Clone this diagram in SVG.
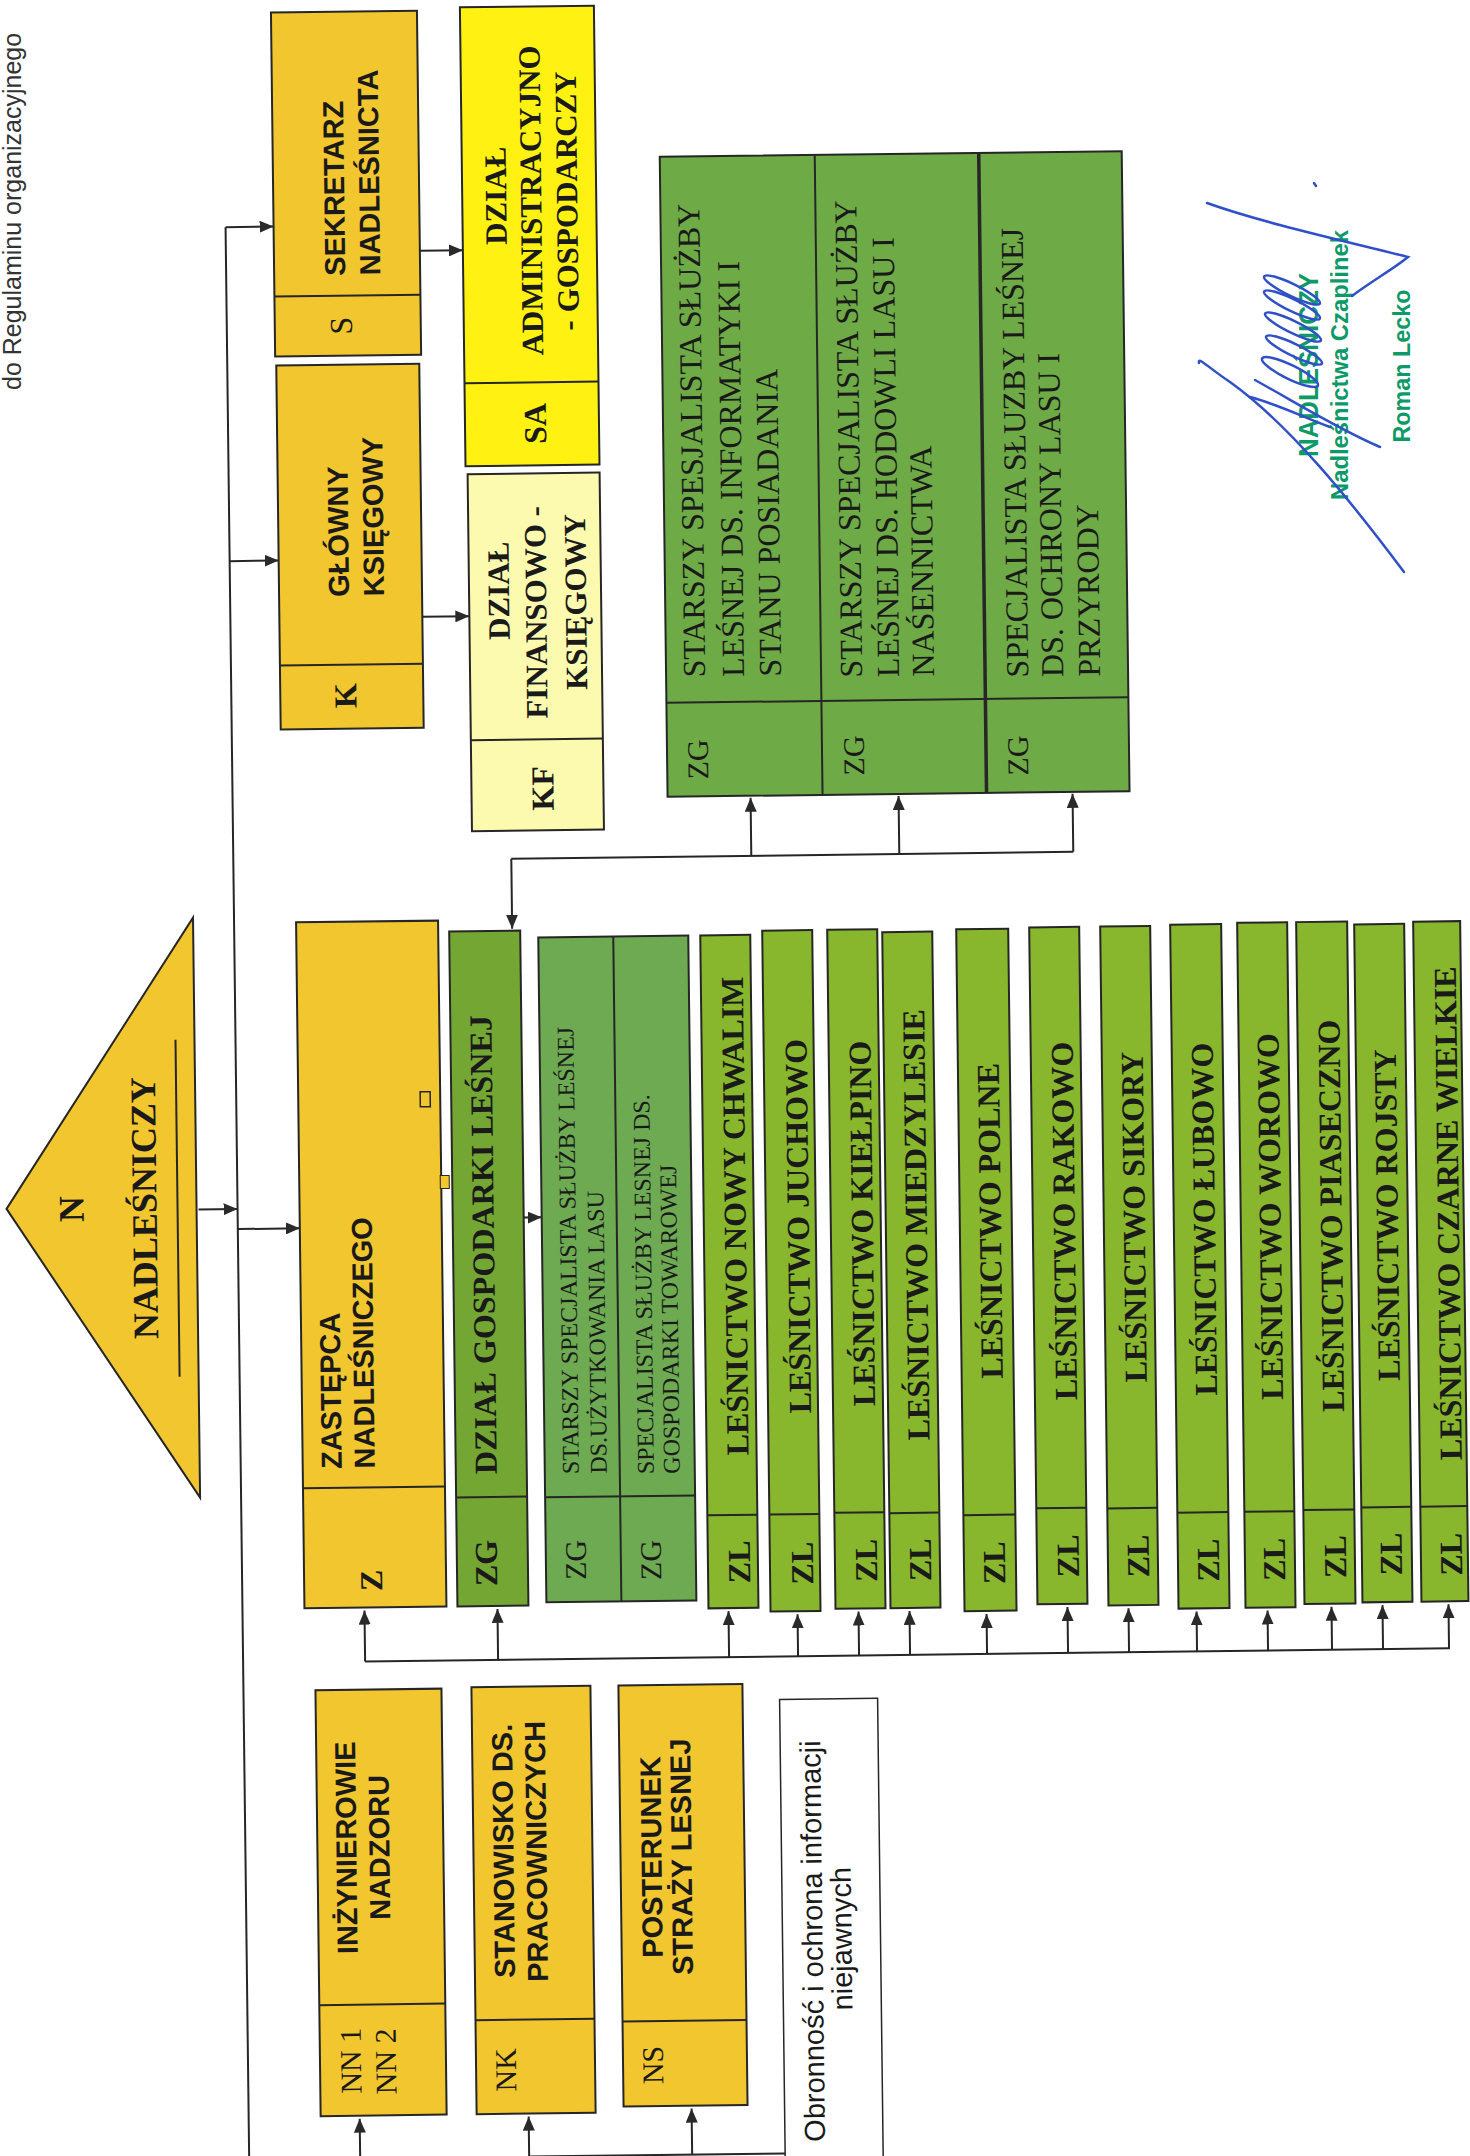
<svg xmlns="http://www.w3.org/2000/svg" width="1470" height="2156" viewBox="0 0 1470 2156">
<defs>
<marker id="ah" markerWidth="14" markerHeight="12" refX="14" refY="6" orient="auto" markerUnits="userSpaceOnUse"><path d="M0,0 L14,6 L0,12 z" fill="#2a2a2a"/></marker>
<style>
.bx{stroke:#262626;stroke-width:2}
.ora{fill:#F2C62F}.yel{fill:#FFF212}.pale{fill:#FCFAAE}.g1{fill:#6EAA46}.g2{fill:#74A633}.g3{fill:#6DAA52}.g4{fill:#88B62C}.wh{fill:#ffffff}
.ln{stroke:#262626;stroke-width:2;fill:none}
.ar{stroke:#262626;stroke-width:2;fill:none;marker-end:url(#ah)}
.sb{font-family:"Liberation Sans",Arial,sans-serif;font-weight:bold;font-size:29px;fill:#1a1a1a}
.sr{font-family:"Liberation Sans",Arial,sans-serif;font-size:29px;fill:#1a1a1a}
.tb{font-family:"Liberation Serif","Times New Roman",serif;font-weight:bold;font-size:32px;fill:#1a1a1a}
.tr{font-family:"Liberation Serif","Times New Roman",serif;font-size:32px;fill:#1a1a1a}
.m{text-anchor:middle}
.stamp{font-family:"Liberation Sans",Arial,sans-serif;font-weight:bold;fill:#0E9A68;text-anchor:middle}
.sig{stroke:#3050C8;stroke-width:2.5;fill:none;stroke-linecap:round}
</style>
</defs>

<text class="sr" style="font-size:25px;fill:#333" transform="translate(21,390) rotate(-90)">do Regulaminu organizacyjnego</text>

<g transform="rotate(-0.7 735 1078)">
<g id="connectors">
<path class="ln" d="M236,221 V2175"/>
<path class="ar" d="M236,221 H284"/>
<path class="ar" d="M236,555 H285"/>
<path class="ar" d="M430,247 H473"/>
<path class="ar" d="M428,613 H475"/>
<path class="ar" d="M197,1203 H236"/>
<path class="ar" d="M236,1223 H298"/>
<path class="ar" d="M514,856 V926"/>
<path class="ln" d="M514,856 H1076"/>
<path class="ar" d="M754,856 V798"/>
<path class="ar" d="M902,856 V798"/>
<path class="ar" d="M1076,856 V798"/>
<path class="ar" d="M522,1215 H540"/>
<path class="ln" d="M358,1657 H1443"/>
<path class="ar" d="M358,1657 V1606"/>
<path class="ar" d="M491,1657 V1606"/>
<path class="ar" d="M722,1657 V1611"/>
<path class="ar" d="M791,1657 V1615"/>
<path class="ar" d="M852,1657 V1613"/>
<path class="ar" d="M903,1657 V1613"/>
<path class="ar" d="M980,1657 V1617"/>
<path class="ar" d="M1061,1657 V1611"/>
<path class="ar" d="M1122,1657 V1613"/>
<path class="ar" d="M1190,1657 V1617"/>
<path class="ar" d="M1261,1657 V1617"/>
<path class="ar" d="M1325,1657 V1614"/>
<path class="ar" d="M1376,1657 V1613"/>
<path class="ar" d="M1442,1657 V1613"/>
<path class="ar" d="M347,2175 V2114"/>
<path class="ar" d="M516,2175 V2114"/>
<path class="ar" d="M679,2154 V2108"/>
<path class="ln" d="M516,2154 H772"/>
</g>

<g id="nadlesniczy">
<polygon class="bx ora" points="5,1200 195,911 195,1491"/>
<text class="tb m" style="font-size:36px" transform="translate(82,1201) rotate(-90)">N</text>
<text class="tb m" style="font-size:36px" transform="translate(155,1201) rotate(-90)">NADLEŚNICZY</text>
<path class="ln" d="M176,1033 V1370"/>
</g>

<g id="sekretarz">
<rect class="bx ora" x="284" y="7" width="146" height="344"/>
<path class="ln" d="M284,291 H430"/>
<text class="sb" transform="translate(355,271) rotate(-90)">SEKRETARZ</text>
<text class="sb" transform="translate(390,271) rotate(-90)">NADLEŚNICTA</text>
<text class="tr m" transform="translate(361,321) rotate(-90)">S</text>
</g>

<g id="glowny">
<rect class="bx ora" x="285" y="360" width="143" height="364"/>
<path class="ln" d="M285,660 H428"/>
<text class="sb" transform="translate(355,592) rotate(-90)">GŁÓWNY</text>
<text class="sb" transform="translate(390,592) rotate(-90)">KSIĘGOWY</text>
<text class="tb m" transform="translate(361,691) rotate(-90)">K</text>
</g>

<g id="dzial-admin">
<rect class="bx yel" x="473" y="4" width="134" height="459"/>
<path class="ln" d="M473,380 H607"/>
<text class="tb m" style="font-size:31px" transform="translate(517,193) rotate(-90)">DZIAŁ</text>
<text class="tb m" style="font-size:31px" transform="translate(552,198) rotate(-90)">ADMINISTRACYJNO</text>
<text class="tb m" style="font-size:31px" transform="translate(588,199) rotate(-90)">- GOSPODARCZY</text>
<text class="tb m" transform="translate(554,421) rotate(-90)">SA</text>
</g>

<g id="dzial-fin">
<rect class="bx pale" x="475" y="471" width="132" height="357"/>
<path class="ln" d="M475,737 H607"/>
<text class="tb m" style="font-size:31px" transform="translate(515,588) rotate(-90)">DZIAŁ</text>
<text class="tb m" style="font-size:31px" transform="translate(552,610) rotate(-90)">FINANSOWO -</text>
<text class="tb m" style="font-size:31px" transform="translate(592,600) rotate(-90)">KSIĘGOWY</text>
<text class="tb m" transform="translate(557,786) rotate(-90)">KF</text>
</g>

<g id="zg-specjalisci">
<rect class="bx g1" x="671" y="156" width="462" height="640"/>
<path class="ln" d="M826,156 V796"/>
<path class="ln" style="stroke-width:3.5" d="M990,156 V796"/>
<path class="ln" d="M671,702 H1133"/>
<text class="tr" transform="translate(710,677) rotate(-90)">STARSZY SPESJALISTA SŁUŻBY</text>
<text class="tr" transform="translate(749,677) rotate(-90)">LEŚNEJ DS. INFORMATYKI I</text>
<text class="tr" transform="translate(786,677) rotate(-90)">STANU POSIADANIA</text>
<text class="tr" transform="translate(867,679) rotate(-90)">STARSZY SPECJALISTA SŁUŻBY</text>
<text class="tr" transform="translate(904,679) rotate(-90)">LEŚNEJ DS. HODOWLI LASU I</text>
<text class="tr" transform="translate(939,679) rotate(-90)">NAŚENNICTWA</text>
<text class="tr" transform="translate(1033,681) rotate(-90)">SPECJALISTA SŁUZBY LEŚNEJ</text>
<text class="tr" transform="translate(1068,681) rotate(-90)">DS. OCHRONY LASU I</text>
<text class="tr" transform="translate(1105,681) rotate(-90)">PRZYRODY</text>
<text class="tr m" style="font-size:30px" transform="translate(712,759) rotate(-90)">ZG</text>
<text class="tr m" style="font-size:30px" transform="translate(868,757) rotate(-90)">ZG</text>
<text class="tr m" style="font-size:30px" transform="translate(1032,759) rotate(-90)">ZG</text>
</g>

<g id="zastepca">
<rect class="bx ora" x="298" y="917" width="142" height="686"/>
<path class="ln" d="M298,1483 H440"/>
<text class="sb" transform="translate(337,1464) rotate(-90)">ZASTĘPCA</text>
<text class="sb" transform="translate(370,1464) rotate(-90)">NADLEŚNICZEGO</text>
<text class="tb m" transform="translate(376,1576) rotate(-90)">Z</text>
<rect x="420" y="1088" width="10" height="15" fill="none" stroke="#262626" stroke-width="1.5"/>
<rect x="439" y="1172" width="9" height="13" class="ora" stroke="#262626" stroke-width="1"/>
</g>

<g id="dzial-gospodarki">
<rect class="bx g2" x="451" y="928" width="71" height="675"/>
<path class="ln" d="M451,1494 H522"/>
<text class="tb" textLength="459" lengthAdjust="spacing" transform="translate(492,1471) rotate(-90)">DZIAŁ GOSPODARKI LEŚNEJ</text>
<text class="tb m" transform="translate(491,1560) rotate(-90)">ZG</text>
</g>

<g id="specjalisci-uzytkowania">
<rect class="bx g3" x="540" y="935" width="150" height="665"/>
<path class="ln" d="M615,935 V1600"/>
<path class="ln" d="M540,1495 H690"/>
<text class="tr" style="font-size:24px" transform="translate(574,1472) rotate(-90)">STARSZY SPECJALISTA SŁUŻBY LEŚNEJ</text>
<text class="tr" style="font-size:24px" transform="translate(602,1472) rotate(-90)">DS.UŻYTKOWANIA LASU</text>
<text class="tr" style="font-size:24px" transform="translate(649,1473) rotate(-90)">SPECJALISTA SŁUŻBY LESNEJ DS.</text>
<text class="tr" style="font-size:24px" transform="translate(675,1473) rotate(-90)">GOSPODARKI TOWAROWEJ</text>
<text class="tr m" style="font-size:30px" transform="translate(580,1558) rotate(-90)">ZG</text>
<text class="tr m" style="font-size:30px" transform="translate(655,1559) rotate(-90)">ZG</text>
</g>

<g id="l-nowy-chwalim">
<rect class="bx g4" x="702" y="935" width="50" height="673"/><path class="ln" d="M702,1515 H752"/>
<text class="tb m" transform="translate(744,1216) rotate(-90)">LEŚNICTWO NOWY CHWALIM</text>
<text class="tb m" transform="translate(744,1562) rotate(-90)">ZL</text>
</g>
<g id="l-juchowo">
<rect class="bx g4" x="764" y="931" width="50" height="681"/><path class="ln" d="M764,1515 H814"/>
<text class="tb m" transform="translate(807,1227) rotate(-90)">LEŚNICTWO JUCHOWO</text>
<text class="tb m" transform="translate(807,1564) rotate(-90)">ZL</text>
</g>
<g id="l-kielpino">
<rect class="bx g4" x="829" y="931" width="50" height="679"/><path class="ln" d="M829,1514 H879"/>
<text class="tb m" transform="translate(871,1225) rotate(-90)">LEŚNICTWO KIEŁPINO</text>
<text class="tb m" transform="translate(871,1562) rotate(-90)">ZL</text>
</g>
<g id="l-miedzylesie">
<rect class="bx g4" x="884" y="934" width="50" height="676"/><path class="ln" d="M884,1515 H934"/>
<text class="tb m" transform="translate(925,1227) rotate(-90)">LEŚNICTWO MIEDZYLESIE</text>
<text class="tb m" transform="translate(925,1562) rotate(-90)">ZL</text>
</g>
<g id="l-polne">
<rect class="bx g4" x="958" y="932" width="52" height="682"/><path class="ln" d="M958,1518 H1010"/>
<text class="tb m" transform="translate(999,1224) rotate(-90)">LEŚNICTWO POLNE</text>
<text class="tb m" transform="translate(999,1566) rotate(-90)">ZL</text>
</g>
<g id="l-rakowo">
<rect class="bx g4" x="1031" y="931" width="50" height="677"/><path class="ln" d="M1031,1512 H1081"/>
<text class="tb m" transform="translate(1073,1225) rotate(-90)">LEŚNICTWO RAKOWO</text>
<text class="tb m" transform="translate(1073,1560) rotate(-90)">ZL</text>
</g>
<g id="l-sikory">
<rect class="bx g4" x="1102" y="931" width="50" height="679"/><path class="ln" d="M1102,1513 H1152"/>
<text class="tb m" transform="translate(1143,1222) rotate(-90)">LEŚNICTWO SIKORY</text>
<text class="tb m" transform="translate(1143,1561) rotate(-90)">ZL</text>
</g>
<g id="l-lubowo">
<rect class="bx g4" x="1172" y="930" width="51" height="684"/><path class="ln" d="M1172,1518 H1223"/>
<text class="tb m" transform="translate(1213,1225) rotate(-90)">LEŚNICTWO ŁUBOWO</text>
<text class="tb m" transform="translate(1213,1566) rotate(-90)">ZL</text>
</g>
<g id="l-worowo">
<rect class="bx g4" x="1239" y="929" width="50" height="685"/><path class="ln" d="M1239,1518 H1289"/>
<text class="tb m" transform="translate(1279,1223) rotate(-90)">LEŚNICTWO WOROWO</text>
<text class="tb m" transform="translate(1279,1566) rotate(-90)">ZL</text>
</g>
<g id="l-piaseczno">
<rect class="bx g4" x="1298" y="929" width="51" height="682"/><path class="ln" d="M1298,1517 H1349"/>
<text class="tb m" transform="translate(1340,1223) rotate(-90)">LEŚNICTWO PIASECZNO</text>
<text class="tb m" transform="translate(1340,1564) rotate(-90)">ZL</text>
</g>
<g id="l-rojsty">
<rect class="bx g4" x="1356" y="932" width="50" height="678"/><path class="ln" d="M1356,1515 H1406"/>
<text class="tb m" transform="translate(1396,1223) rotate(-90)">LEŚNICTWO ROJSTY</text>
<text class="tb m" transform="translate(1396,1562) rotate(-90)">ZL</text>
</g>
<g id="l-czarne-wielkie">
<rect class="bx g4" x="1415" y="930" width="47" height="680"/><path class="ln" d="M1415,1515 H1462"/>
<text class="tb m" transform="translate(1457,1222) rotate(-90)">LEŚNICTWO CZARNE WIELKIE</text>
<text class="tb m" transform="translate(1456,1563) rotate(-90)">ZL</text>
</g>

<g id="inzynierowie">
<rect class="bx ora" x="308" y="1685" width="126" height="426"/>
<path class="ln" d="M308,2000 H434"/>
<text class="sb m" transform="translate(347,1843) rotate(-90)">INŻYNIEROWIE</text>
<text class="sb m" transform="translate(380,1843) rotate(-90)">NADZORU</text>
<text class="tr m" style="font-size:30px" transform="translate(349,2056) rotate(-90)">NN 1</text>
<text class="tr m" style="font-size:30px" transform="translate(384,2057) rotate(-90)">NN 2</text>
</g>

<g id="stanowisko">
<rect class="bx ora" x="464" y="1684" width="119" height="427"/>
<path class="ln" d="M464,2017 H583"/>
<text class="sb m" transform="translate(504,1848) rotate(-90)">STANOWISKO DS.</text>
<text class="sb m" transform="translate(537,1849) rotate(-90)">PRACOWNICZYCH</text>
<text class="tr m" style="font-size:30px" transform="translate(504,2067) rotate(-90)">NK</text>
</g>

<g id="posterunek">
<rect class="bx ora" x="611" y="1684" width="124" height="421"/>
<path class="ln" d="M611,2020 H735"/>
<text class="sb m" transform="translate(652,1856) rotate(-90)">POSTERUNEK</text>
<text class="sb m" transform="translate(682,1856) rotate(-90)">STRAŻY LESNEJ</text>
<text class="tr m" style="font-size:30px" transform="translate(651,2064) rotate(-90)">NS</text>
</g>

<g id="obronnosc">
<rect class="bx wh" x="772" y="1700" width="98" height="480" style="stroke-width:1.5"/>
<text class="sr m" transform="translate(812,1942) rotate(-90)">Obronność i ochrona informacji</text>
<text class="sr m" transform="translate(841,1940) rotate(-90)">niejawnych</text>
</g>
</g>

<g id="stamp">
<text class="stamp" style="font-size:27px" textLength="184" lengthAdjust="spacingAndGlyphs" transform="translate(1318,365) rotate(-90)">NADLEŚNICZY</text>
<text class="stamp" style="font-size:24px" textLength="270" lengthAdjust="spacingAndGlyphs" transform="translate(1348,365) rotate(-90)">Nadleśnictwa Czaplinek</text>
<text class="stamp" style="font-size:24px" textLength="153" lengthAdjust="spacingAndGlyphs" transform="translate(1410,366) rotate(-90)">Roman Lecko</text>
</g>

<g id="signature">
<path class="sig" d="M1207,203 C1260,222 1340,240 1408,257 C1395,268 1370,282 1352,296"/>
<path class="sig" d="M1199,363 C1198,356 1206,366 1230,382 C1290,425 1350,500 1404,572"/>
<path class="sig" d="M1255,380 C1300,405 1340,430 1380,447"/>
<path class="sig" d="M1250,397 C1280,405 1305,418 1330,427"/>
<ellipse class="sig" cx="1292" cy="290" rx="31" ry="6" transform="rotate(26 1292 290)"/>
<ellipse class="sig" cx="1292" cy="305" rx="31" ry="6" transform="rotate(26 1292 305)"/>
<ellipse class="sig" cx="1293" cy="327" rx="31" ry="6" transform="rotate(26 1293 327)"/>
<ellipse class="sig" cx="1294" cy="350" rx="31" ry="6" transform="rotate(26 1294 350)"/>
<ellipse class="sig" cx="1290" cy="372" rx="31" ry="7" transform="rotate(26 1290 372)"/>
<path class="sig" d="M1314,183 L1316,186"/>
</g>
</svg>
